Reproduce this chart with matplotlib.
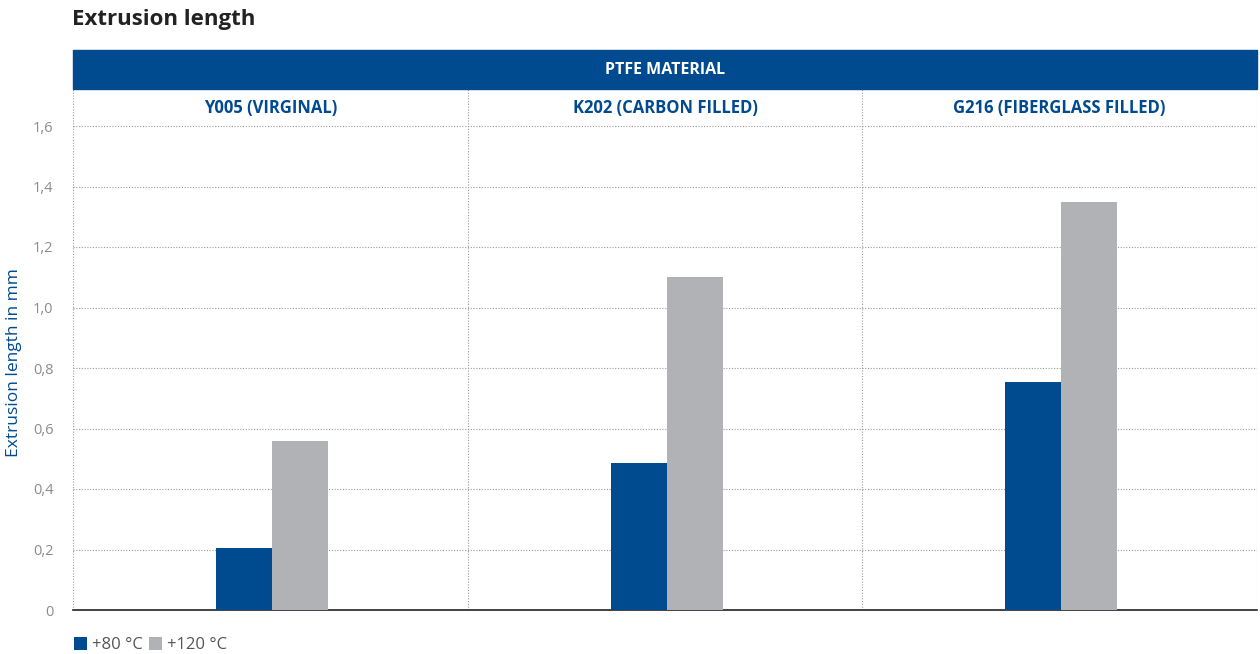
import numpy as np
import matplotlib
matplotlib.use('Agg')
import matplotlib.pyplot as plt
from matplotlib.patches import Rectangle

plt.rcParams['font.family'] = ['Open Sans', 'DejaVu Sans']

BLUE = '#004a8f'
GREY = '#b1b2b5'

categories = ['Y005 (VIRGINAL)', 'K202 (CARBON FILLED)', 'G216 (FIBERGLASS FILLED)']
temp_80 = [0.205, 0.487, 0.755]
temp_120 = [0.56, 1.10, 1.35]
series_labels = ['+80 °C', '+120 °C']
yticks = [0, 0.2, 0.4, 0.6, 0.8, 1.0, 1.2, 1.4, 1.6]
ytick_labels = ['0', '0,2', '0,4', '0,6', '0,8', '1,0', '1,2', '1,4', '1,6']
header = 'PTFE MATERIAL'

W, H = 1260, 654
fig = plt.figure(figsize=(W / 100, H / 100), dpi=100)
# axes from x=73..1257, y=89..610 (pixels)
ax = fig.add_axes([73 / W, 1 - 610 / H, (1257 - 73) / W, (610 - 89) / H])

ymax = 1.6 * (610 - 89) / (610 - 126)
x = np.arange(len(categories))
bw = 0.142
ax.bar(x - bw / 2 + 0.004, temp_80, bw, color=BLUE, zorder=3, label=series_labels[0])
ax.bar(x + bw / 2 + 0.004, temp_120, bw, color=GREY, zorder=3, label=series_labels[1])

ax.set_xlim(-0.5, len(categories) - 0.5)
ax.set_ylim(0, ymax)
ax.set_yticks(yticks)
ax.set_yticklabels(ytick_labels, color='#8c8c8c', fontsize=10.5)
ax.set_xticks([])
ax.tick_params(axis='y', length=0, pad=14)

for s in ['top', 'right', 'left']:
    ax.spines[s].set_visible(False)
ax.spines['bottom'].set_color('#222222')
ax.spines['bottom'].set_linewidth(1.2)

for yv in yticks[1:]:
    ax.axhline(yv, color='#9a9a9a', lw=0.8, ls=(0, (1, 1.5)), zorder=1)
for xv in [-0.5, 0.5, 1.5, 2.5]:
    ax.axvline(xv, color='#9a9a9a', lw=0.8, ls=(0, (1, 1.5)), zorder=1)

for i, c in enumerate(categories):
    ax.text(i, 1.6 + (ymax - 1.6) / 2, c, ha='center', va='center',
            color=BLUE, fontsize=12, fontweight='bold')

# header band
fig.patches.append(Rectangle((73 / W, 1 - 89 / H), (1257 - 73) / W, 39 / H,
                             transform=fig.transFigure, color=BLUE, zorder=0))
fig.text((73 + 1257) / 2 / W, 1 - 70 / H, header, ha='center', va='center',
         color='white', fontsize=11.5, fontweight='bold')

fig.text(72 / W, 1 - 20 / H, 'Extrusion length', ha='left', va='center',
         color='#222222', fontsize=16, fontweight='bold')
fig.text(14 / W, 1 - 363 / H, 'Extrusion length in mm', ha='center', va='center',
         rotation=90, color=BLUE, fontsize=12.5)

leg = fig.legend(loc='center left', bbox_to_anchor=(74 / W, 1 - 645 / H), ncol=2,
                 frameon=False, fontsize=12, handlelength=0.8, handleheight=0.8,
                 handletextpad=0.25, columnspacing=0.4, labelcolor='#555555',
                 borderpad=0, borderaxespad=0)

fig.savefig('out.png', dpi=100)
